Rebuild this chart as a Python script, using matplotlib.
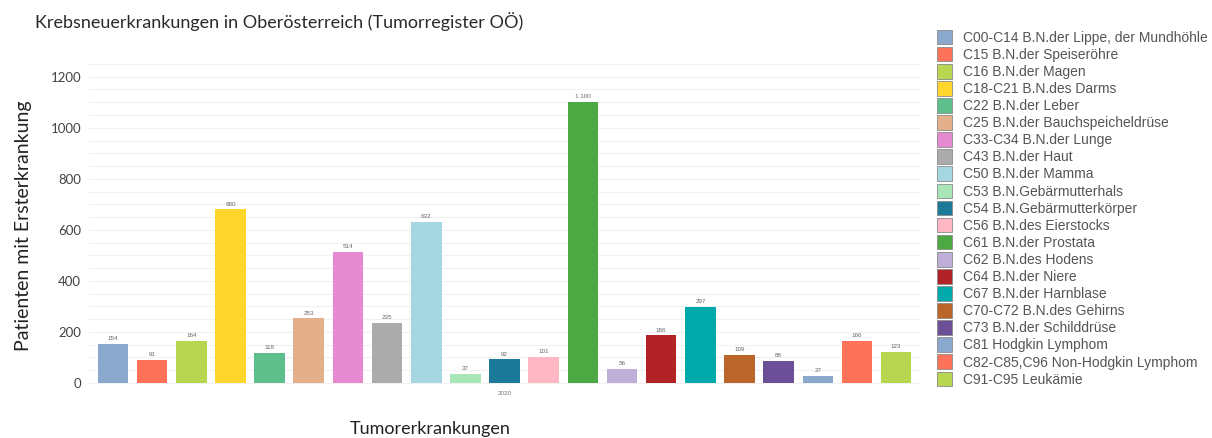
import matplotlib.pyplot as plt
from matplotlib.patches import Patch

categories = [
    "C00-C14 B.N.der Lippe, der Mundhöhle",
    "C15 B.N.der Speiseröhre",
    "C16 B.N.der Magen",
    "C18-C21 B.N.des Darms",
    "C22 B.N.der Leber",
    "C25 B.N.der Bauchspeicheldrüse",
    "C33-C34 B.N.der Lunge",
    "C43 B.N.der Haut",
    "C50 B.N.der Mamma",
    "C53 B.N.Gebärmutterhals",
    "C54 B.N.Gebärmutterkörper",
    "C56 B.N.des Eierstocks",
    "C61 B.N.der Prostata",
    "C62 B.N.des Hodens",
    "C64 B.N.der Niere",
    "C67 B.N.der Harnblase",
    "C70-C72 B.N.des Gehirns",
    "C73 B.N.der Schilddrüse",
    "C81 Hodgkin Lymphom",
    "C82-C85,C96 Non-Hodgkin Lymphom",
    "C91-C95 Leukämie",
]
values = [154, 91, 164, 680, 118, 253, 514, 235, 632, 37, 92, 101,
          1100, 56, 186, 297, 109, 88, 27, 166, 123]
colors = ["#8aa8cb", "#fe725a", "#b8d64f", "#ffd62b", "#5ebf8c", "#e3b08b",
          "#e58ad1", "#ababab", "#a5d6e2", "#a9e6b7", "#1c7a99", "#ffb7c3",
          "#4ba843", "#bfafd8", "#b22327", "#00aaaa", "#ba662b", "#6b5097",
          "#8aa8cb", "#fe725a", "#b8d64f"]
year_label = "2020"

plt.rcParams['font.family'] = ['Lato', 'DejaVu Sans']

fig = plt.figure(figsize=(12.12, 4.38), dpi=100)
ax = fig.add_axes([0.0738, 0.114, 0.685, 0.74])

x = list(range(len(values)))
bars = ax.bar(x, values, width=0.78, color=colors, zorder=2)
labels = [f"{v:,}".replace(",", " ") for v in values]
ax.bar_label(bars, labels=labels, padding=2, fontsize=4.5, color="#666666",
             family=['Liberation Sans'])

ax.set_xlim(-0.6, len(values) - 0.4)
ax.set_ylim(-20, 1250)
ax.set_yticks(range(0, 1201, 200))
ax.set_yticks(range(0, 1251, 50), minor=True)
ax.grid(axis='y', which='both', color="#f1f1f1", linewidth=0.8, zorder=0)
ax.set_xticks([10])
ax.set_xticklabels([year_label], fontsize=4.5, color="#777777",
                   family=['Liberation Sans'])
ax.tick_params(axis='x', length=0, pad=2)
ax.tick_params(axis='y', which='both', length=0, labelsize=9.5,
               labelcolor="#444444", pad=6)
for s in ax.spines.values():
    s.set_visible(False)

ax.set_ylabel("Patienten mit Ersterkrankung", fontsize=14, color="#222222",
              labelpad=13)
fig.text(0.355, 0.008, "Tumorerkrankungen", fontsize=13, color="#222222",
         ha='center')
fig.text(0.029, 0.937, "Krebsneuerkrankungen in Oberösterreich (Tumorregister OÖ)",
         fontsize=13, color="#2a2a2a")

handles = [Patch(facecolor=c, edgecolor="#8a8a8a", linewidth=0.6) for c in colors]
fig.legend(handles, categories, loc='upper left',
           bbox_to_anchor=(0.7685, 0.945), frameon=False,
           prop={'family': 'Liberation Sans', 'size': 10},
           labelcolor="#555555", handlelength=1.1, handleheight=1.25,
           handletextpad=0.8, labelspacing=0.15, borderaxespad=0)

fig.savefig("out.png", dpi=100)
